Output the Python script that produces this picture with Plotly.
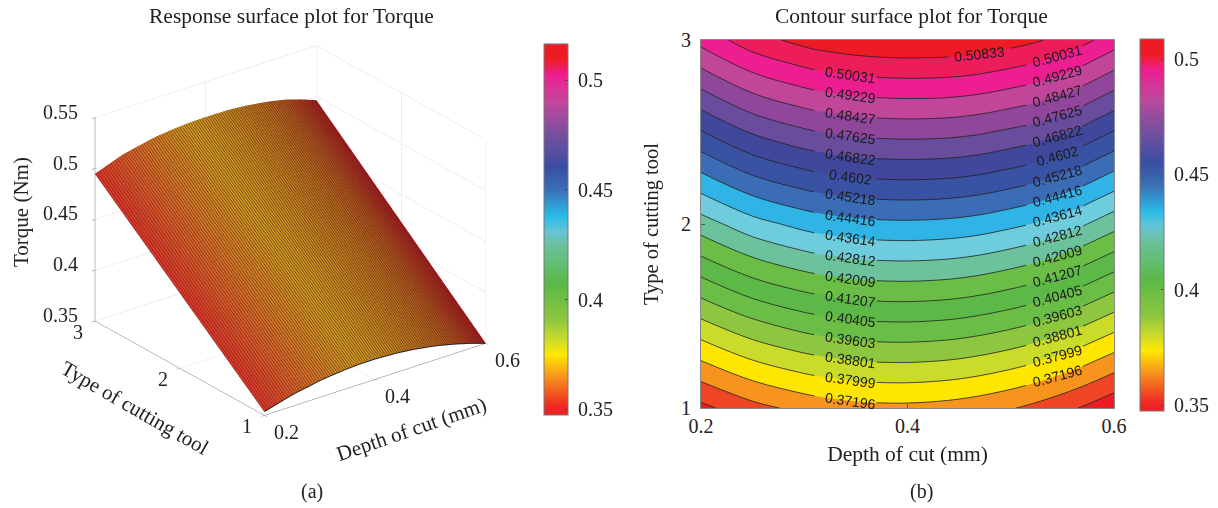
import numpy as np
import plotly.graph_objects as go

depth = [0.2, 0.25, 0.3, 0.31, 0.345, 0.37, 0.4, 0.44, 0.47, 0.5, 0.515, 0.545, 0.57, 0.6]
tool = [1, 1.5, 2, 2.5, 3]
torque = [
    [0.3538, 0.3613, 0.3664, 0.3672, 0.3691, 0.3699, 0.3700, 0.3689, 0.3671, 0.3645, 0.3629, 0.3590, 0.3552, 0.3499],
    [0.3891, 0.3972, 0.4026, 0.4034, 0.4054, 0.4062, 0.4064, 0.4055, 0.4038, 0.4013, 0.3998, 0.3960, 0.3921, 0.3865],
    [0.4244, 0.4331, 0.4387, 0.4396, 0.4416, 0.4424, 0.4427, 0.4420, 0.4405, 0.4380, 0.4366, 0.4329, 0.4289, 0.4231],
    [0.4597, 0.4691, 0.4749, 0.4758, 0.4779, 0.4787, 0.4791, 0.4786, 0.4772, 0.4748, 0.4735, 0.4699, 0.4658, 0.4597],
    [0.4950, 0.5050, 0.5110, 0.5120, 0.5141, 0.5150, 0.5154, 0.5151, 0.5138, 0.5116, 0.5103, 0.5068, 0.5026, 0.4963],
]
surface_shade = [0.0, 0.18, 0.36, 0.39, 0.49, 0.55, 0.58, 0.63, 0.68, 0.73, 0.76, 0.82, 0.9, 1.0]
shade_scale = [[0, "#d9362a"], [0.2, "#d2602a"], [0.55, "#c69c20"], [0.75, "#ad6a1e"], [1, "#9c1a20"]]
colorbar_scale = [
    [0.0, "#ed2024"], [0.022, "#ee2724"], [0.103, "#f7941d"], [0.162, "#ffe800"],
    [0.202, "#cddc2a"], [0.256, "#8dc63f"], [0.355, "#5ab948"], [0.454, "#6bc09b"],
    [0.495, "#66c4d4"], [0.535, "#2bbbe8"], [0.607, "#3a6fb5"], [0.67, "#3a4ea2"],
    [0.76, "#7b4f9e"], [0.841, "#c0489c"], [0.917, "#ee1e90"], [0.958, "#ed1c24"],
    [1.0, "#ed1c24"],
]
band_colors = [
    "#ed1c24", "#ee4624", "#f7941d", "#ffe600", "#cbdb2a", "#8dc63f", "#6abd45",
    "#5cb947", "#6abd45", "#6cc29c", "#6ecddd", "#2fb4e5", "#3a6db5", "#3a52a4",
    "#41479b", "#6a4c9c", "#90469b", "#c1469a", "#ed1e8f", "#ed1c5a", "#ed1c24",
]
level_start = 0.35592
level_step = 0.0080217
level_count = 20
depth_ticks = [0.2, 0.4, 0.6]
tool_ticks = [1, 2, 3]
torque_ticks = [0.35, 0.4, 0.45, 0.5, 0.55]
cbar_ticks = [0.35, 0.4, 0.45, 0.5]
FONT = "Liberation Serif"
INK = "#222222"
W, H = 1218, 508

levels = [level_start + level_step * k for k in range(level_count)]
z_arr = np.array(torque)
fig = go.Figure()
fig.add_trace(go.Surface(
    x=depth, y=tool, z=torque,
    surfacecolor=[surface_shade for _ in tool],
    colorscale=shade_scale, showscale=False,
    lighting=dict(ambient=1, diffuse=0, specular=0, roughness=1, fresnel=0),
    contours=dict(x=dict(show=True, start=0.2, end=0.6, size=0.004, color="#6b1d12", width=1)),
    scene="scene",
))
fig.add_trace(go.Scatter3d(
    x=depth, y=[tool[0]] * len(depth), z=torque[0], mode="lines",
    line=dict(color="#222222", width=2), scene="scene", hoverinfo="skip",
))
fig.add_trace(go.Contour(
    x=depth, y=tool, z=torque, autocontour=False,
    contours=dict(start=levels[0], end=levels[-1], size=level_step, coloring="fill", showlines=False),
    line=dict(width=0),
    colorscale=[[k / level_count, c] for k, c in enumerate(band_colors)],
    showscale=False, xaxis="x", yaxis="y",
))


def line_trace(col_a, col_b, lev_a, lev_b):
    return go.Contour(
        x=depth[col_a:col_b + 1], y=tool, z=z_arr[:, col_a:col_b + 1].tolist(), autocontour=False,
        contours=dict(start=levels[lev_a], end=levels[lev_b], size=level_step, coloring="none"),
        line=dict(color="#222222", width=0.8, smoothing=1),
        showscale=False, xaxis="x", yaxis="y", hoverinfo="skip",
    )


# the lines break where the labels sit, exactly as in the reference
for a, b in [(0, 3), (5, 10), (12, 13)]:
    fig.add_trace(line_trace(a, b, 2, 18))
fig.add_trace(line_trace(0, 13, 0, 1))
for a, b in [(0, 7), (9, 13)]:
    fig.add_trace(line_trace(a, b, 19, 19))


def colorbar_trace(cmin, cmax, x_px, top_px, bottom_px):
    return go.Scatter(
        x=[0.4, 0.4], y=[2, 2], mode="markers", hoverinfo="skip",
        marker=dict(size=1, opacity=0, color=[cmin, cmax], cmin=cmin, cmax=cmax,
                    colorscale=colorbar_scale, showscale=True,
                    colorbar=dict(
                        x=x_px / W, xanchor="left", xpad=0, ypad=0,
                        y=1 - top_px / H, yanchor="top",
                        thicknessmode="pixels", thickness=24,
                        lenmode="pixels", len=bottom_px - top_px,
                        tickvals=cbar_ticks, ticktext=["\u00a0" + str(v) for v in cbar_ticks],
                        ticks="inside", ticklen=3, tickcolor="#444", outlinecolor="#777", outlinewidth=1,
                        tickfont=dict(family=FONT, size=20, color=INK),
                    )),
        xaxis="x", yaxis="y", showlegend=False,
    )


fig.add_trace(colorbar_trace(0.3474, 0.5164, 543.5, 44, 415))
fig.add_trace(colorbar_trace(0.3474, 0.5087, 1140, 39, 411))


def scene_axis(tickvals, rng):
    return dict(
        title=dict(text=""), tickvals=tickvals, range=rng, showticklabels=False,
        showbackground=False, gridcolor="#dddddd", gridwidth=1,
        showline=True, linecolor="#777777", linewidth=1,
        ticks="outside", ticklen=4, tickcolor="#777777",
        showspikes=False, zeroline=False,
    )


def tick_note(x, y, z, text, dx, dy, anchor="center"):
    return dict(x=x, y=y, z=z, text=text, showarrow=False, xshift=dx, yshift=dy, xanchor=anchor,
                yanchor="middle", font=dict(family=FONT, size=20, color=INK))


scene_notes = (
    [tick_note(v, 1, 0.35, str(v), 22, -17) for v in depth_ticks]
    + [tick_note(0.2, v, 0.35, str(v), -17, -11) for v in tool_ticks]
    + [tick_note(0.2, 3, v, str(v), -15, 6, "right") for v in torque_ticks]
)


def paper_note(text, x, y, size, angle=0):
    return dict(text=text, x=x / W, y=1 - y / H, xref="paper", yref="paper", xanchor="center",
                yanchor="middle", textangle=angle, showarrow=False,
                font=dict(family=FONT, size=size, color=INK))


notes = [
    paper_note("Response surface plot for Torque", 291, 16, 21.5),
    paper_note("Contour surface plot for Torque", 911, 16, 21.5),
    paper_note("(a)", 312, 491, 20),
    paper_note("(b)", 921, 491, 20),
    paper_note("Torque (Nm)", 21, 212, 21, -90),
    paper_note("Depth of cut (mm)", 412, 429, 21, -19),
    paper_note("Type of cutting tool", 135, 408, 21, 30),
]


def contour_label(col, lev, angle):
    y_at = float(np.interp(levels[lev], z_arr[:, col], tool))
    return dict(x=depth[col], y=y_at, xref="x", yref="y", text=f"{levels[lev]:.5g}", textangle=angle,
                showarrow=False, xanchor="center", yanchor="middle",
                font=dict(family="Liberation Sans", size=14, color="#1a1a1a"))


notes += [contour_label(4, k, 8) for k in range(2, 19)]
notes += [contour_label(11, k, -15) for k in range(2, 19)]
notes.append(contour_label(8, 19, -6))


def flat_axis(domain, rng, ticks, standoff, title, size, label_gap):
    return dict(domain=domain, range=rng, tickvals=ticks, ticktext=[str(v) for v in ticks],
                ticks="inside", ticklen=4, tickcolor="#555", showline=True, linecolor="#888",
                mirror=True, showgrid=False, zeroline=False, automargin=False, ticklabelstandoff=label_gap,
                tickfont=dict(family=FONT, size=20, color=INK),
                title=dict(text=title, font=dict(family=FONT, size=size, color=INK), standoff=standoff))


fig.update_layout(
    width=W, height=H, autosize=False, showlegend=False,
    margin=dict(l=0, r=0, t=0, b=0, autoexpand=False), paper_bgcolor="white", plot_bgcolor="white",
    scene=dict(
        domain=dict(x=[0, 581 / W], y=[1 - 461 / H, 1]),
        xaxis=scene_axis(depth_ticks, [0.2, 0.6]),
        yaxis=scene_axis(tool_ticks, [1, 3]),
        zaxis=scene_axis(torque_ticks, [0.35, 0.55]),
        aspectmode="manual", aspectratio=dict(x=1.21, y=1.21, z=0.975),
        camera=dict(projection=dict(type="orthographic"),
                    eye=dict(x=-0.971, y=-1.27, z=0.752),
                    center=dict(x=0, y=0, z=0), up=dict(x=0, y=0, z=1)),
        annotations=scene_notes,
    ),
    xaxis=flat_axis([701 / W, 1114 / W], [0.2, 0.6], depth_ticks, 9, "Depth of cut (mm)", 21.5, 0),
    yaxis=flat_axis([1 - 408 / H, 1 - 40 / H], [1, 3], tool_ticks, 16, "Type of cutting tool", 20.5, 5),
    annotations=notes,
)
fig.write_html("out.html", config=dict(displayModeBar=False), post_script="document.body.style.margin='0';")
